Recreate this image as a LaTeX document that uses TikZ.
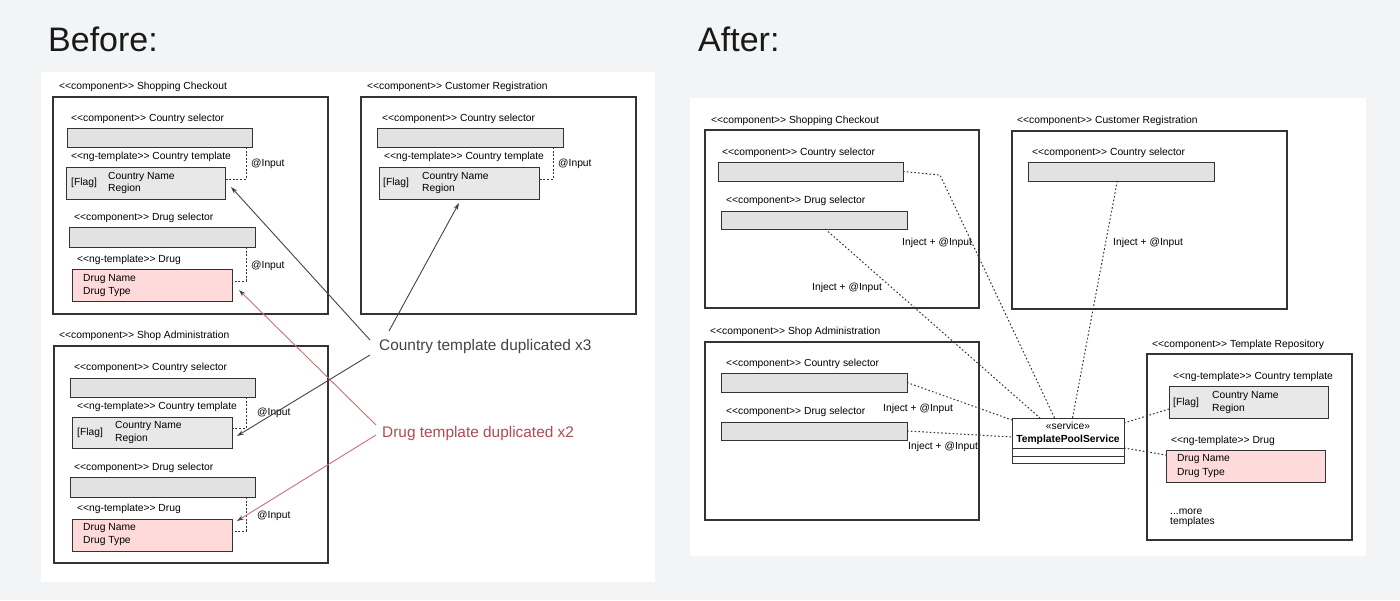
\documentclass[tikz,border=0pt]{standalone}
\usepackage{fontspec}
\setmainfont{Liberation Sans}
\usetikzlibrary{fit,calc,arrows.meta}
\definecolor{bgc}{HTML}{F3F4F6}
\definecolor{ln}{HTML}{333333}
\definecolor{barc}{HTML}{E2E2E2}
\definecolor{tplc}{HTML}{E8E8E8}
\definecolor{pinkc}{HTML}{FFDADA}
\definecolor{redt}{RGB}{175,75,85}
\definecolor{redl}{RGB}{205,110,120}
\definecolor{arr}{HTML}{444444}
\newcommand{\stLT}{\textless\kern0pt\textless}
\newcommand{\stGT}{\textgreater\kern0pt\textgreater}
\newcommand{\bx}[6]{\node[#2, fit={(#3,#4) (#5,#6)}] (#1) {};}
\begin{document}
\begin{tikzpicture}[x=1pt,y=-1pt,
  comp/.style={draw=ln, line width=1.05pt, fill=white, inner sep=0pt, outer sep=0pt},
  bar/.style={draw=ln, line width=1pt, fill=barc, inner sep=0pt, outer sep=0pt},
  tpl/.style={draw=ln, line width=1pt, fill=tplc, inner sep=0pt, outer sep=0pt},
  drg/.style={draw=ln, line width=1pt, fill=pinkc, inner sep=0pt, outer sep=0pt},
  svcbox/.style={draw=ln, line width=1pt, fill=white, inner sep=0pt, outer sep=0pt},
  lbl/.style={anchor=base west, inner sep=0pt, font=\fontsize{10.3}{12}\selectfont, text=black},
  clbl/.style={anchor=base, inner sep=0pt, font=\fontsize{10.3}{12}\selectfont, text=black},
  title/.style={anchor=base west, inner sep=0pt, font=\fontsize{34}{40}\selectfont, text=black!90},
  note/.style={anchor=base west, inner sep=0pt, font=\fontsize{15.4}{18}\selectfont},
  bconn/.style={draw=ln, line width=1pt, dash pattern=on 2pt off 1.6pt},
  aconn/.style={draw=ln, line width=1pt, dash pattern=on 1.6pt off 2.2pt},
  garr/.style={draw=arr, line width=0.9pt, -{Stealth[length=7pt,width=4.5pt]}},
  rarr/.style={draw=redl, line width=0.9pt, -{Stealth[length=7pt,width=4.5pt,color=arr]}}
]
% background and panels
\fill[bgc] (0,0) rectangle (1400,600);
\fill[white] (41,72) rectangle (655,582);
\fill[white] (690,98) rectangle (1366,556);

% titles
\node[title] (tbefore) at (48,51) {Before:};
\node[title] (tafter) at (698,51) {After:};

% ================= BEFORE =================
% Shopping Checkout
\node[lbl] (scT) at (59,89.4) {\stLT component\stGT{} Shopping Checkout};
\bx{sc}{comp}{53}{97}{328}{314}
\node[lbl] (scL1) at (71,121.7) {\stLT component\stGT{} Country selector};
\bx{scbar1}{bar}{67}{128}{252}{147}
\node[lbl] (scL2) at (71,159.7) {\stLT ng-template\stGT{} Country template};
\bx{sctpl}{tpl}{66}{167}{225}{199}
\node[lbl] (scF) at (71,185.7) {[Flag]};
\node[lbl] (scCN) at (108,179.7) {Country Name};
\node[lbl] (scRG) at (108,191.7) {Region};
\node[lbl] (scI1) at (251,166.7) {@Input};
\node[lbl] (scL3) at (74,220.7) {\stLT component\stGT{} Drug selector};
\bx{scbar2}{bar}{69}{227}{255}{247}
\node[lbl] (scL4) at (77,262.7) {\stLT ng-template\stGT{} Drug};
\bx{scdrug}{drg}{72}{269}{232}{301}
\node[lbl] (scDN) at (83,281.7) {Drug Name};
\node[lbl] (scDT) at (83,294.7) {Drug Type};
\node[lbl] (scI2) at (251,268.7) {@Input};
\draw[bconn] ([xshift=-6pt]scbar1.south east) |- ([yshift=4pt]sctpl.east);
\draw[bconn] ([xshift=-9pt]scbar2.south east) |- ([yshift=4pt]scdrug.east);

% Customer Registration
\node[lbl] (crT) at (367,89.7) {\stLT component\stGT{} Customer Registration};
\bx{cr}{comp}{361}{97}{636}{314}
\node[lbl] (crL1) at (382,121.7) {\stLT component\stGT{} Country selector};
\bx{crbar1}{bar}{377}{128}{563}{147}
\node[lbl] (crL2) at (384,159.7) {\stLT ng-template\stGT{} Country template};
\bx{crtpl}{tpl}{379}{167}{539}{199}
\node[lbl] (crF) at (383,185.7) {[Flag]};
\node[lbl] (crCN) at (422,179.7) {Country Name};
\node[lbl] (crRG) at (422,191.7) {Region};
\node[lbl] (crI1) at (558,166.7) {@Input};
\draw[bconn] ([xshift=-10pt]crbar1.south east) |- ([yshift=4pt]crtpl.east);

% Shop Administration
\node[lbl] (saT) at (59,338.7) {\stLT component\stGT{} Shop Administration};
\bx{sa}{comp}{54}{346}{328}{563}
\node[lbl] (saL1) at (74,370.7) {\stLT component\stGT{} Country selector};
\bx{sabar1}{bar}{70}{378}{255}{397}
\node[lbl] (saL2) at (77,409.7) {\stLT ng-template\stGT{} Country template};
\bx{satpl}{tpl}{72}{417}{232}{448}
\node[lbl] (saF) at (77,435.7) {[Flag]};
\node[lbl] (saCN) at (115,428.7) {Country Name};
\node[lbl] (saRG) at (115,441.7) {Region};
\node[lbl] (saI1) at (257,415.7) {@Input};
\node[lbl] (saL3) at (74,470.7) {\stLT component\stGT{} Drug selector};
\bx{sabar2}{bar}{70}{477}{255}{497}
\node[lbl] (saL4) at (77,511.7) {\stLT ng-template\stGT{} Drug};
\bx{sadrug}{drg}{72}{519}{232}{551}
\node[lbl] (saDN) at (83,530.7) {Drug Name};
\node[lbl] (saDT) at (83,543.7) {Drug Type};
\node[lbl] (saI2) at (257,518.7) {@Input};
\draw[bconn] ([xshift=-9pt]sabar1.south east) |- ([yshift=4.5pt]satpl.east);
\draw[bconn] ([xshift=-9pt]sabar2.south east) |- ([yshift=4pt]sadrug.east);

% notes and arrows
\node[note, text=arr] (ctd) at (379,350.5) {Country template duplicated x3};
\node[note, text=redt] (dtd) at (382,437.5) {Drug template duplicated x2};
\coordinate (c1) at (370,340);
\coordinate (c2) at (389,331);
\coordinate (c3) at (370,355);
\coordinate (d1) at (376,425);
\coordinate (d2) at (376,435);
\draw[rarr] (d1) -- ([shift={(7pt,-5pt)}]scdrug.east);
\draw[rarr] (d2) -- ([shift={(5pt,-2pt)}]sadrug.north east);
\draw[garr] (c1) -- ([shift={(6pt,-4pt)}]sctpl.east);
\draw[garr] (c2) -- ([shift={(0pt,-4pt)}]crtpl.south);
\draw[garr] (c3) -- ([shift={(5pt,-3.5pt)}]satpl.east);

% ================= AFTER =================
% Shopping Checkout
\node[lbl] (ascT) at (711,123.7) {\stLT component\stGT{} Shopping Checkout};
\bx{asc}{comp}{705}{130}{979}{308}
\node[lbl] (ascL1) at (722,155.7) {\stLT component\stGT{} Country selector};
\bx{ascbar1}{bar}{718}{162}{903}{181}
\node[lbl] (ascL2) at (726,203.7) {\stLT component\stGT{} Drug selector};
\bx{ascbar2}{bar}{721}{211}{907}{229}
\node[lbl] (ascI1) at (902,245.7) {Inject + @Input};
\node[lbl] (ascI2) at (812,290.7) {Inject + @Input};

% Customer Registration
\node[lbl] (acrT) at (1017,123.7) {\stLT component\stGT{} Customer Registration};
\bx{acr}{comp}{1012}{131}{1287}{309}
\node[lbl] (acrL1) at (1032,155.7) {\stLT component\stGT{} Country selector};
\bx{acrbar1}{bar}{1028}{162}{1214}{181}
\node[lbl] (acrI1) at (1113,245.7) {Inject + @Input};

% Shop Administration
\node[lbl] (asaT) at (710,334.7) {\stLT component\stGT{} Shop Administration};
\bx{asa}{comp}{705}{342}{979}{520}
\node[lbl] (asaL1) at (726,366.7) {\stLT component\stGT{} Country selector};
\bx{asabar1}{bar}{721}{373}{907}{392}
\node[lbl] (asaL2) at (726,414.7) {\stLT component\stGT{} Drug selector};
\bx{asabar2}{bar}{721}{422}{907}{440}
\node[lbl] (asaI1) at (883,411.7) {Inject + @Input};
\node[lbl] (asaI2) at (908,449.7) {Inject + @Input};

% Template Repository
\node[lbl] (repT) at (1152,347.7) {\stLT component\stGT{} Template Repository};
\bx{rep}{comp}{1147}{354}{1352}{540}
\node[lbl] (repL1) at (1173,379.7) {\stLT ng-template\stGT{} Country template};
\bx{rtpl}{tpl}{1169}{386}{1328}{418}
\node[lbl] (rF) at (1173,405.7) {[Flag]};
\node[lbl] (rCN) at (1212,398.7) {Country Name};
\node[lbl] (rRG) at (1212,411.7) {Region};
\node[lbl] (repL2) at (1171,443.7) {\stLT ng-template\stGT{} Drug};
\bx{rdrug}{drg}{1166}{450}{1325}{482}
\node[lbl] (rDN) at (1177,461.7) {Drug Name};
\node[lbl] (rDT) at (1177,475.7) {Drug Type};
\node[lbl] (rM1) at (1170,514) {...more};
\node[lbl] (rM2) at (1170,524.5) {templates};

% Service
\bx{svc}{svcbox}{1012}{418}{1124}{463}
\draw[draw=ln, line width=1pt] ($(svc.south west)+(0,15pt)$) -- ($(svc.south east)+(0,15pt)$);
\draw[draw=ln, line width=1pt] ($(svc.south west)+(0,7pt)$) -- ($(svc.south east)+(0,7pt)$);
\node[clbl] (svcS) at (1068,429.7) {«service»};
\node[clbl, font=\fontsize{10.3}{12}\selectfont\bfseries] (svcN) at (1068,442.7) {TemplatePoolService};

% After connectors
\coordinate (k1) at (940,175);
\draw[aconn] (ascbar1.east) -- (k1) -- ($(svc.north west)!0.38!(svc.north east)$);
\draw[aconn] ($(ascbar2.south west)!0.56!(ascbar2.south east)$) -- ($(svc.north west)!0.25!(svc.north east)$);
\draw[aconn] ($(acrbar1.south west)!0.48!(acrbar1.south east)$) -- ($(svc.north west)!0.54!(svc.north east)$);
\draw[aconn] (asabar1.east) -- ([yshift=-2pt]svc.north west);
\draw[aconn] (asabar2.east) -- ([yshift=3.5pt]svc.west);
\draw[aconn] ([yshift=-5pt]svc.north east) -- ([yshift=-7pt]rtpl.west);
\draw[aconn] ($(svc.south east)+(0,15pt)$) -- ([yshift=11pt]rdrug.west);
\end{tikzpicture}
\end{document}
